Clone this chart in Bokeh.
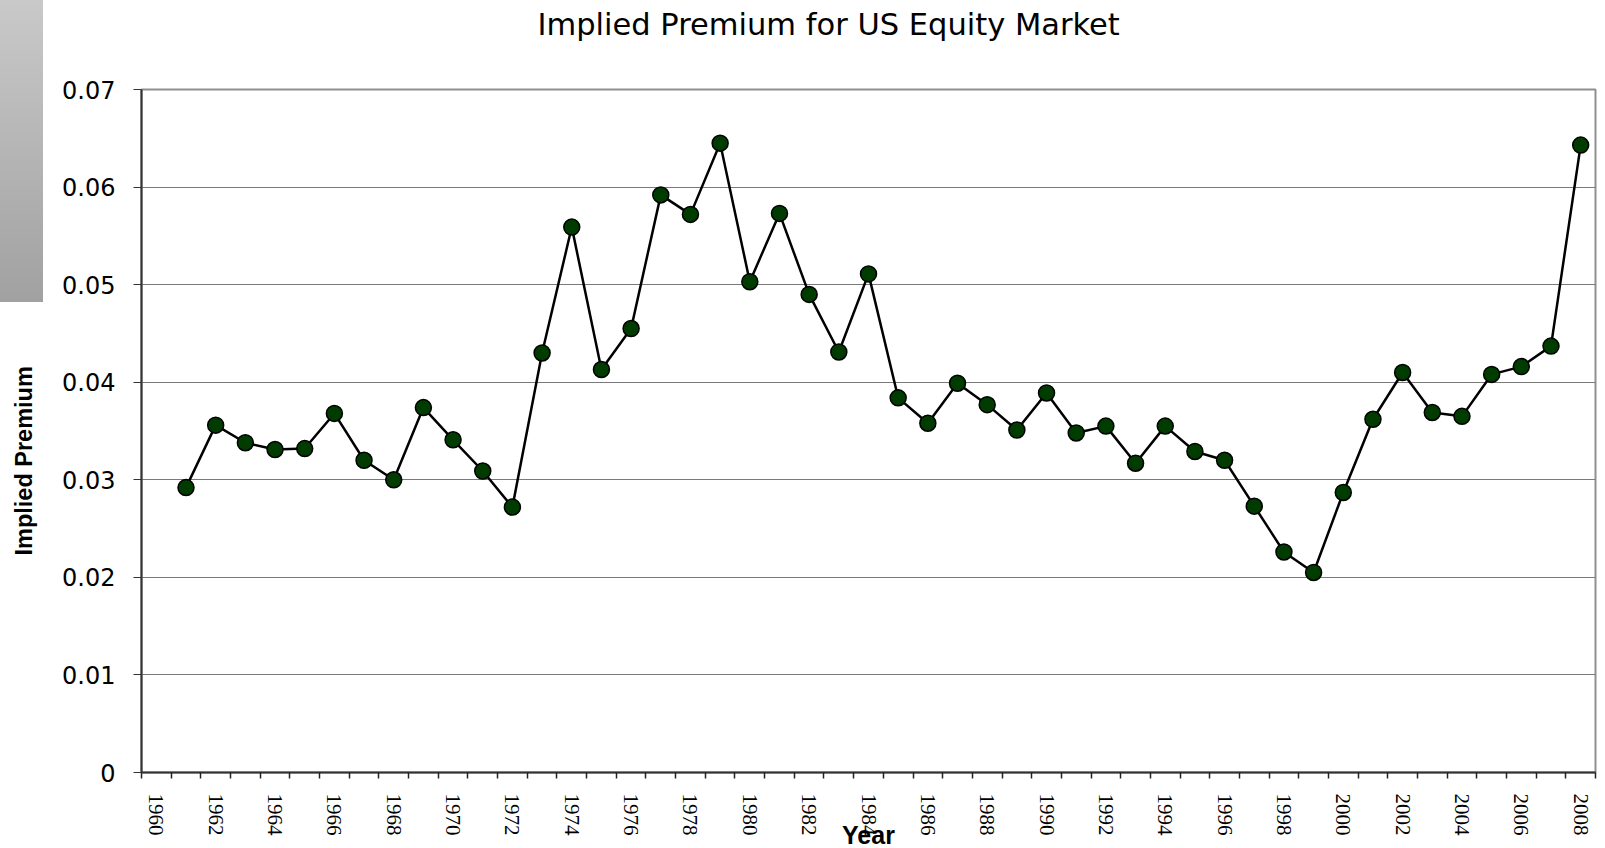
import math
from bokeh.plotting import figure
from bokeh.models import Range1d, FixedTicker, NumeralTickFormatter, Title
from bokeh.embed import file_html
from bokeh.resources import INLINE

# ---- data ----
years = list(range(1961, 2009))
premium = [0.0292, 0.0356, 0.0338, 0.0331, 0.0332, 0.0368, 0.0320, 0.0300, 0.0374, 0.0341,
           0.0309, 0.0272, 0.0430, 0.0559, 0.0413, 0.0455, 0.0592, 0.0572, 0.0645, 0.0503,
           0.0573, 0.0490, 0.0431, 0.0511, 0.0384, 0.0358, 0.0399, 0.0377, 0.0351, 0.0389,
           0.0348, 0.0355, 0.0317, 0.0355, 0.0329, 0.0320, 0.0273, 0.0226, 0.0205, 0.0287,
           0.0362, 0.0410, 0.0369, 0.0365, 0.0408, 0.0416, 0.0437, 0.0643]
category_years = list(range(1960, 2009))
x_tick_years = list(range(1960, 2009, 2))
y_ticks = [0, 0.01, 0.02, 0.03, 0.04, 0.05, 0.06, 0.07]
title_text = "Implied Premium for US Equity Market"
x_label = "Year"
y_label = "Implied Premium"

FW, FH = 1454, 683
p = figure(frame_width=FW, frame_height=FH,
           min_border_left=141, min_border_right=10, min_border_top=89, min_border_bottom=74,
           x_range=Range1d(category_years[0] - 0.5, category_years[-1] + 0.5),
           y_range=Range1d(y_ticks[0], y_ticks[-1]),
           output_backend="svg", toolbar_location=None,
           background_fill_color="white", border_fill_color=None)

# decorative gray gradient block at the top-left corner (page background)
p.styles = {"background": "linear-gradient(#c9c9c9, #a1a1a1) 0px 0px / 43px 302px no-repeat, #ffffff"}

p.outline_line_color = "#8f8f8f"
p.outline_line_width = 2

# title
p.title.text = title_text
p.title.text_font = "DejaVu Sans"
p.title.text_font_size = "30.5px"
p.title.text_font_style = "normal"
p.title.text_color = "black"
p.title.align = "left"
p.title.offset = 396
p.title.vertical_align = "top"
p.title.standoff = 0
p.title.padding = dict(left=0, right=0, top=0, bottom=46)

# y label as a left-side title
p.add_layout(Title(text=y_label, text_font="Liberation Sans", text_font_style="bold",
                   text_font_size="23.5px", text_color="black", align="left",
                   offset=217, standoff=0, vertical_align="bottom",
                   padding=dict(left=0, right=0, top=0, bottom=23)), "left")

# grid
p.xgrid.visible = False
p.ygrid.ticker = FixedTicker(ticks=y_ticks)
p.ygrid.grid_line_color = "#7a7a7a"
p.ygrid.grid_line_width = 1

# y axis
p.yaxis.ticker = FixedTicker(ticks=y_ticks)
p.yaxis.formatter = NumeralTickFormatter(format="0.[00]")
p.yaxis.major_tick_out = 8
p.yaxis.major_tick_in = 0
p.yaxis.minor_tick_line_color = None
p.yaxis.axis_line_color = "#333333"
p.yaxis.axis_line_width = 2
p.yaxis.major_tick_line_color = "#333333"
p.yaxis.major_label_text_font = "DejaVu Sans"
p.yaxis.major_label_text_font_size = "24px"
p.yaxis.major_label_text_color = "black"
p.yaxis.major_label_standoff = 18

# x axis
p.xaxis.ticker = FixedTicker(ticks=x_tick_years,
                             minor_ticks=[y - 0.5 for y in category_years] + [category_years[-1] + 0.5])
p.xaxis.major_tick_out = 0
p.xaxis.major_tick_in = 0
p.xaxis.major_tick_line_color = None
p.xaxis.minor_tick_out = 6
p.xaxis.minor_tick_in = 0
p.xaxis.minor_tick_line_color = "#222222"
p.xaxis.minor_tick_line_width = 1.5
p.xaxis.axis_line_color = "#333333"
p.xaxis.axis_line_width = 2
p.xaxis.major_label_orientation = -math.pi / 2
p.xaxis.major_label_text_font = "Liberation Serif"
p.xaxis.major_label_text_font_size = "21px"
p.xaxis.major_label_text_color = "black"
p.xaxis.major_label_standoff = 15
p.xaxis.axis_label = x_label
p.xaxis.axis_label_text_font = "Liberation Sans"
p.xaxis.axis_label_text_font_style = "bold"
p.xaxis.axis_label_text_font_size = "25px"
p.xaxis.axis_label_text_color = "black"
p.xaxis.axis_label_standoff = -18

# data
p.line(years, premium, line_color="black", line_width=2.5)
p.scatter(years, premium, size=16, fill_color="#003b00", line_color="black", line_width=1.5)

open("out.html", "w").write(file_html(p, INLINE))
